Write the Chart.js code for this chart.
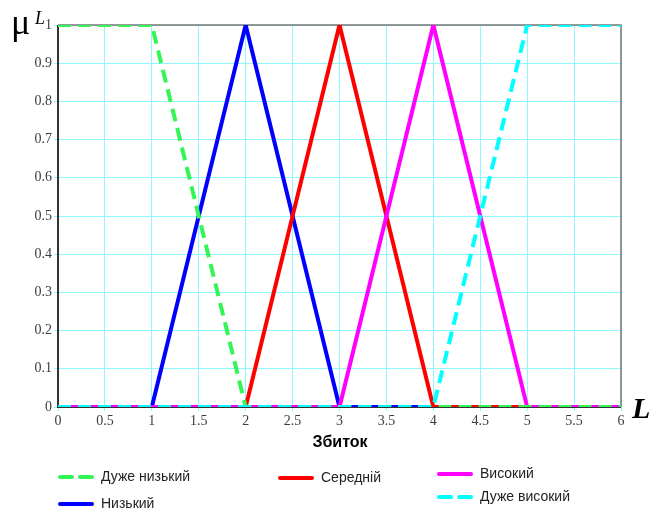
<!DOCTYPE html>
<html>
<head>
<meta charset="utf-8">
<script src="https://cdn.jsdelivr.net/npm/chart.js@4"></script>
<style>
  html, body { margin: 0; padding: 0; background: #fff; }
  #wrap { width: 654px; height: 512px; }
</style>
</head>
<body>
<div id="wrap"><canvas id="chart" width="654" height="512"></canvas></div>
<script>
// membership functions: x breakpoints and values
const veryLowX = [0, 1, 2, 6];
const veryLowY = [1, 1, 0, 0];
const lowX = [0, 1, 2, 3, 6];
const lowY = [0, 0, 1, 0, 0];
const midX = [0, 2, 3, 4, 6];
const midY = [0, 0, 1, 0, 0];
const highX = [0, 3, 4, 5, 6];
const highY = [0, 0, 1, 0, 0];
const veryHighX = [0, 4, 5, 6];
const veryHighY = [0, 0, 1, 1];

const xTicks = [0, 0.5, 1, 1.5, 2, 2.5, 3, 3.5, 4, 4.5, 5, 5.5, 6];
const yTicks = [0, 0.1, 0.2, 0.3, 0.4, 0.5, 0.6, 0.7, 0.8, 0.9, 1];

const labels = ['Дуже низький', 'Низький', 'Середній', 'Високий', 'Дуже високий'];

function pts(xs, ys) {
  return xs.map((x, i) => ({ x: x, y: ys[i] }));
}

function series(label, xs, ys, color, dash, order) {
  return {
    label: label,
    data: pts(xs, ys),
    borderColor: color,
    backgroundColor: color,
    borderWidth: 4,
    borderDash: dash,
    pointRadius: 0,
    fill: false,
    tension: 0,
    order: order
  };
}

// legend layout (custom, like the original picture)
const legendItems = [
  { text: labels[0], color: '#33f555', dash: [12, 8], x: 58, y: 477 },
  { text: labels[1], color: '#0000ff', dash: [], x: 58, y: 504 },
  { text: labels[2], color: '#ff0000', dash: [], x: 278, y: 478 },
  { text: labels[3], color: '#ff00ff', dash: [], x: 437, y: 474 },
  { text: labels[4], color: '#00ffff', dash: [12, 8], x: 437, y: 497 }
];

const extras = {
  id: 'extras',
  beforeDatasetsDraw(chart) {
    const ctx = chart.ctx;
    const a = chart.chartArea;
    ctx.save();
    ctx.strokeStyle = '#777';
    ctx.lineWidth = 1.5;
    ctx.beginPath();
    ctx.moveTo(a.left, a.top);
    ctx.lineTo(a.right, a.top);
    ctx.lineTo(a.right, a.bottom);
    ctx.stroke();
    ctx.strokeStyle = '#333';
    ctx.lineWidth = 2;
    ctx.beginPath();
    ctx.moveTo(a.left, a.top);
    ctx.lineTo(a.left, a.bottom);
    ctx.lineTo(a.right, a.bottom);
    ctx.stroke();
    ctx.restore();
  },
  afterDraw(chart) {
    const ctx = chart.ctx;
    ctx.save();
    // mu^L
    ctx.fillStyle = '#000';
    ctx.textBaseline = 'alphabetic';
    ctx.textAlign = 'left';
    ctx.font = '36px "Liberation Serif", serif';
    ctx.fillText('μ', 11, 34);
    ctx.font = 'italic 18px "Liberation Serif", serif';
    ctx.fillText('L', 35, 24);
    // L on x axis
    ctx.font = 'bold italic 30px "Liberation Serif", serif';
    ctx.fillText('L', 632, 418);
    // axis title
    ctx.textAlign = 'center';
    ctx.font = 'bold 16px "Liberation Sans", Arial, sans-serif';
    ctx.fillText('Збиток', 340, 447);
    // legend
    ctx.textAlign = 'left';
    ctx.textBaseline = 'middle';
    ctx.font = '14px "Liberation Sans", Arial, sans-serif';
    legendItems.forEach(it => {
      ctx.strokeStyle = it.color;
      ctx.lineWidth = 4;
      ctx.lineCap = 'round';
      ctx.setLineDash(it.dash);
      ctx.beginPath();
      ctx.moveTo(it.x + 2, it.y);
      ctx.lineTo(it.x + 34, it.y);
      ctx.stroke();
      ctx.setLineDash([]);
      ctx.fillStyle = '#222';
      ctx.fillText(it.text, it.x + 43, it.y);
    });
    ctx.restore();
  }
};

new Chart(document.getElementById('chart').getContext('2d'), {
  type: 'line',
  data: {
    datasets: [
      series(labels[0], veryLowX, veryLowY, '#33f555', [13, 7], 2),
      series(labels[1], lowX, lowY, '#0000ff', [], 5),
      series(labels[2], midX, midY, '#ff0000', [], 4),
      series(labels[3], highX, highY, '#ff00ff', [], 3),
      series(labels[4], veryHighX, veryHighY, '#00ffff', [13, 7], 1)
    ]
  },
  options: {
    responsive: false,
    animation: false,
    layout: { padding: { top: 25, right: 33, left: 0, bottom: 0 } },
    plugins: {
      legend: { display: false },
      tooltip: { enabled: false }
    },
    scales: {
      x: {
        type: 'linear',
        min: 0,
        max: 6,
        afterBuildTicks: s => { s.ticks = xTicks.map(v => ({ value: v })); },
        afterFit: s => { s.height = 105; },
        grid: { color: '#8ff8ff', lineWidth: 1, drawTicks: true, tickLength: 4 },
        border: { display: false },
        ticks: {
          color: '#3c3c3c',
          maxRotation: 0,
          autoSkip: false,
          padding: 2,
          callback: v => String(v),
          font: { family: '"Liberation Serif", serif', size: 14 }
        }
      },
      y: {
        type: 'linear',
        min: 0,
        max: 1,
        afterBuildTicks: s => { s.ticks = yTicks.map(v => ({ value: v })); },
        afterFit: s => { s.width = 58; },
        grid: { color: '#8ff8ff', lineWidth: 1, drawTicks: true, tickLength: 4 },
        border: { display: false },
        ticks: {
          color: '#3c3c3c',
          autoSkip: false,
          padding: 2,
          callback: v => String(v),
          font: { family: '"Liberation Serif", serif', size: 14 }
        }
      }
    }
  },
  plugins: [extras]
});
</script>
</body>
</html>
